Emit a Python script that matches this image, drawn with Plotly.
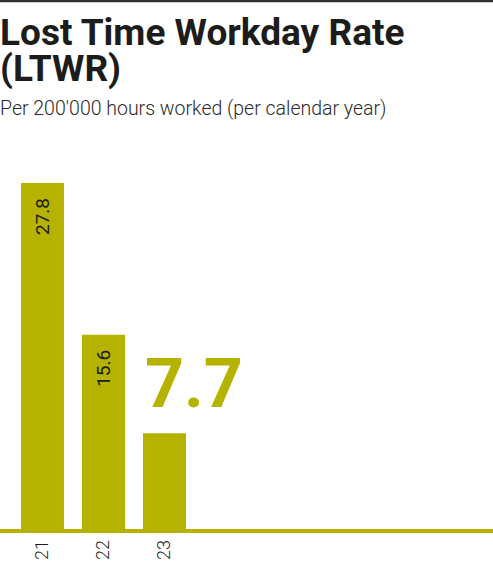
import plotly.graph_objects as go

# data
years = [21, 22, 23]
ltwr = [27.8, 15.6, 7.7]
bar_labels = ["27.8", "15.6"]
highlight_year = 23
highlight_value = 7.7
highlight_label = "7.7"

olive = "#b5b200"
dark = "#1c1c1a"

fig = go.Figure()
fig.add_trace(go.Bar(
    x=years, y=ltwr, width=0.705,
    marker=dict(color=olive, line=dict(width=0)),
    showlegend=False, hoverinfo="skip",
))

# value labels written up the inside of the first two bars
for yr, val, lab in zip(years, ltwr, bar_labels):
    fig.add_annotation(x=yr, y=val, text=lab, showarrow=False, textangle=-90,
                       xanchor="center", yanchor="top", yshift=-13,
                       font=dict(family="Roboto", size=19, color=dark))

# big highlighted value above the latest bar
fig.add_annotation(
    x=highlight_year - 0.35, y=highlight_value, xref="x", yref="y",
    text=highlight_label, showarrow=False, xanchor="left", yanchor="middle",
    yshift=49, font=dict(family="Roboto", size=68, color=olive, weight="bold"),
)

# title block
fig.add_annotation(x=0, y=1, xref="paper", yref="paper", yshift=117.5,
                   text="Lost Time Workday Rate", showarrow=False,
                   xanchor="left", yanchor="middle", xshift=-2,
                   font=dict(family="Roboto", size=37, color=dark, weight="bold"))
fig.add_annotation(x=0, y=1, xref="paper", yref="paper", yshift=81.5,
                   text="(LTWR)", showarrow=False,
                   xanchor="left", yanchor="middle", xshift=-2,
                   font=dict(family="Roboto", size=37, color=dark, weight="bold"))
fig.add_annotation(x=0, y=1, xref="paper", yref="paper", yshift=41.5,
                   text="Per 200'000 hours worked (per calendar year)", showarrow=False,
                   xanchor="left", yanchor="middle", xshift=-2,
                   font=dict(family="Roboto", size=19.5, color="#2a2a2a", weight=300))

# rule at the very top
fig.add_shape(type="line", xref="paper", yref="paper", x0=0, x1=1, y0=1.393, y1=1.393,
              line=dict(color="#333333", width=2.5))

fig.update_layout(
    width=493, height=562,
    margin=dict(l=0, r=0, t=150, b=33),
    paper_bgcolor="white", plot_bgcolor="white",
    xaxis=dict(range=[20.303, 28.385], tickmode="array", tickvals=years,
               ticktext=[str(y) for y in years], tickangle=-90,
               tickfont=dict(family="Roboto", size=18, color=dark, weight=300),
               showgrid=False, zeroline=False, showline=True,
               linecolor=olive, linewidth=3.5, ticks="", automargin=False),
    yaxis=dict(range=[0, 30.45], visible=False),
)

fig.write_html("out.html", config={"displayModeBar": False},
               post_script="document.body.style.margin='0';")
